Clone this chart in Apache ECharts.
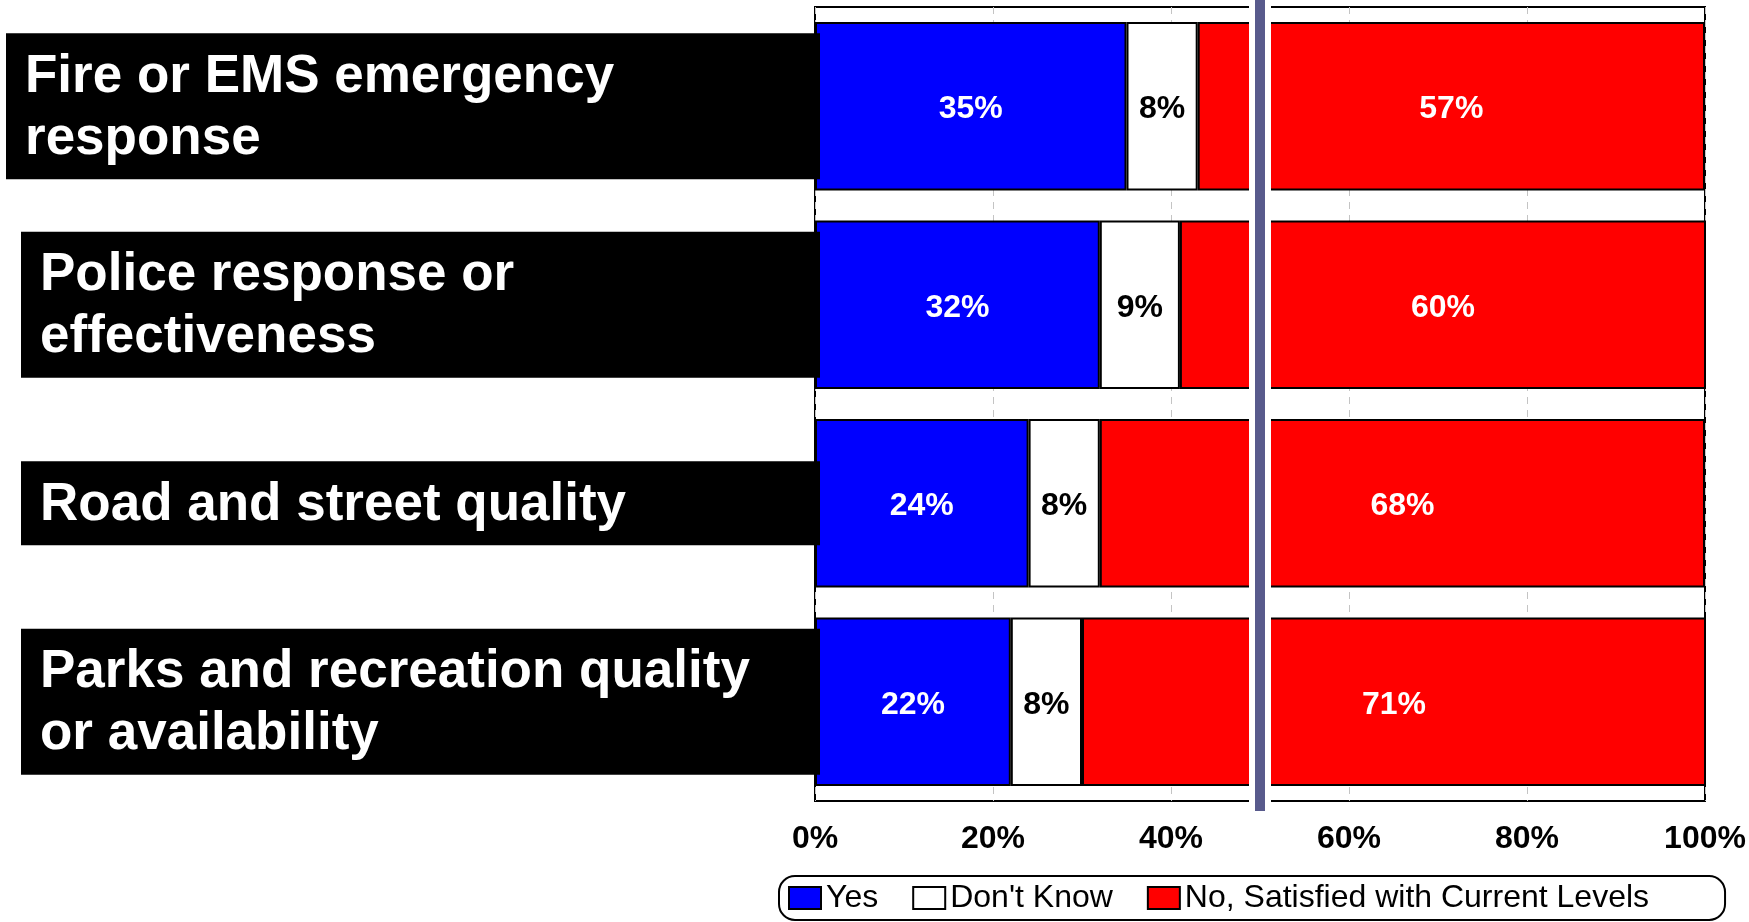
<!DOCTYPE html>
<html>
<head>
<meta charset="utf-8">
<script src="https://cdn.jsdelivr.net/npm/echarts@6/dist/echarts.min.js"></script>
<style>
  html, body { margin: 0; padding: 0; background: #ffffff; }
  #chart { width: 1749px; height: 922px; }
</style>
</head>
<body>
<div id="chart"></div>
<script>
// Survey categories, top to bottom
const categories = [
  'Fire or EMS emergency\nresponse',
  'Police response or\neffectiveness',
  'Road and street quality',
  'Parks and recreation quality\nor availability'
];
// Share of responses per category (%)
const yesValues = [35, 32, 24, 22];
const dontKnowValues = [8, 9, 8, 8];
const noValues = [57, 60, 68, 71];
const seriesNames = ['Yes', "Don't Know", 'No, Satisfied with Current Levels'];
// Value axis ticks (%)
const axisMin = 0;
const axisMax = 100;
const axisStep = 20;
// Reference divider position on the value axis (%)
const dividerValue = 50;

const FONT = "'Liberation Sans', Arial, Helvetica, sans-serif";
const GRID = { left: 815, right: 44, top: 7, bottom: 121 };

const chart = echarts.init(document.getElementById('chart'), null, { renderer: 'canvas' });

function barSeries(name, values, color, labelColor) {
  return {
    name: name,
    type: 'bar',
    stack: 'total',
    data: values,
    barCategoryGap: '15%',
    clip: true,
    itemStyle: { color: color, borderColor: '#000000', borderWidth: 2 },
    label: {
      show: true,
      position: 'inside',
      offset: [0, 3],
      formatter: '{c}%',
      color: labelColor,
      fontFamily: FONT,
      fontWeight: 'bold',
      fontSize: 32
    },
    emphasis: { disabled: true }
  };
}

chart.setOption({
  animation: false,
  backgroundColor: '#ffffff',
  grid: {
    left: GRID.left, right: GRID.right, top: GRID.top, bottom: GRID.bottom,
    show: true, backgroundColor: '#ffffff', borderColor: '#000000', borderWidth: 2
  },
  xAxis: {
    type: 'value',
    min: axisMin,
    max: axisMax,
    interval: axisStep,
    axisLine: { show: false },
    axisTick: { show: false },
    splitLine: { show: true, lineStyle: { color: '#c4c4c4', width: 1, type: [7, 6] } },
    axisLabel: {
      formatter: '{value}%',
      color: '#000000',
      fontFamily: FONT,
      fontWeight: 'bold',
      fontSize: 32,
      margin: 22
    }
  },
  yAxis: {
    type: 'category',
    data: categories,
    inverse: true,
    axisLine: { show: false },
    axisTick: { show: false },
    axisLabel: { show: false },
    splitLine: { show: false }
  },
  legend: {
    data: seriesNames,
    left: 779,
    top: 876,
    orient: 'horizontal',
    icon: 'rect',
    padding: [4, 76, 4, 9],
    itemWidth: 32,
    itemHeight: 22,
    itemGap: 34,
    borderColor: '#000000',
    borderWidth: 2,
    borderRadius: 16,
    selectedMode: false,
    textStyle: { color: '#000000', fontFamily: FONT, fontSize: 32, lineHeight: 36 },
    itemStyle: { borderColor: '#000000', borderWidth: 2 }
  },
  series: [
    barSeries(seriesNames[0], yesValues, '#0000ff', '#ffffff'),
    barSeries(seriesNames[1], dontKnowValues, '#ffffff', '#000000'),
    barSeries(seriesNames[2], noValues, '#ff0000', '#ffffff')
  ]
});

// Category captions in black boxes plus the mid-scale divider, placed from the axes
function drawOverlays() {
  const graphics = [];
  categories.forEach(function (cat, i) {
    const cy = chart.convertToPixel({ yAxisIndex: 0 }, cat);
    const lines = cat.split('\n').length;
    const h = lines > 1 ? 146 : 84;
    const x0 = i === 0 ? 6 : 21;
    const x1 = GRID.left + 5;
    graphics.push({
      type: 'rect',
      z: 100,
      shape: { x: x0, y: cy - h / 2, width: x1 - x0, height: h },
      style: { fill: '#000000' }
    });
    graphics.push({
      type: 'text',
      z: 101,
      x: x0 + 19,
      y: cy + 2,
      style: {
        text: cat,
        fill: '#ffffff',
        font: 'bold 53px ' + FONT,
        lineHeight: 62,
        verticalAlign: 'middle',
        align: 'left'
      }
    });
  });
  const dx = chart.convertToPixel({ xAxisIndex: 0 }, dividerValue);
  const bottomY = chart.getHeight() - GRID.bottom + 10;
  graphics.push({
    type: 'rect', z: 90,
    shape: { x: dx - 11, y: 0, width: 22, height: bottomY },
    style: { fill: '#ffffff' }
  });
  graphics.push({
    type: 'rect', z: 91,
    shape: { x: dx - 5, y: 0, width: 10, height: bottomY },
    style: { fill: '#585a8c' }
  });
  chart.setOption({ graphic: graphics });
}
drawOverlays();
</script>
</body>
</html>
